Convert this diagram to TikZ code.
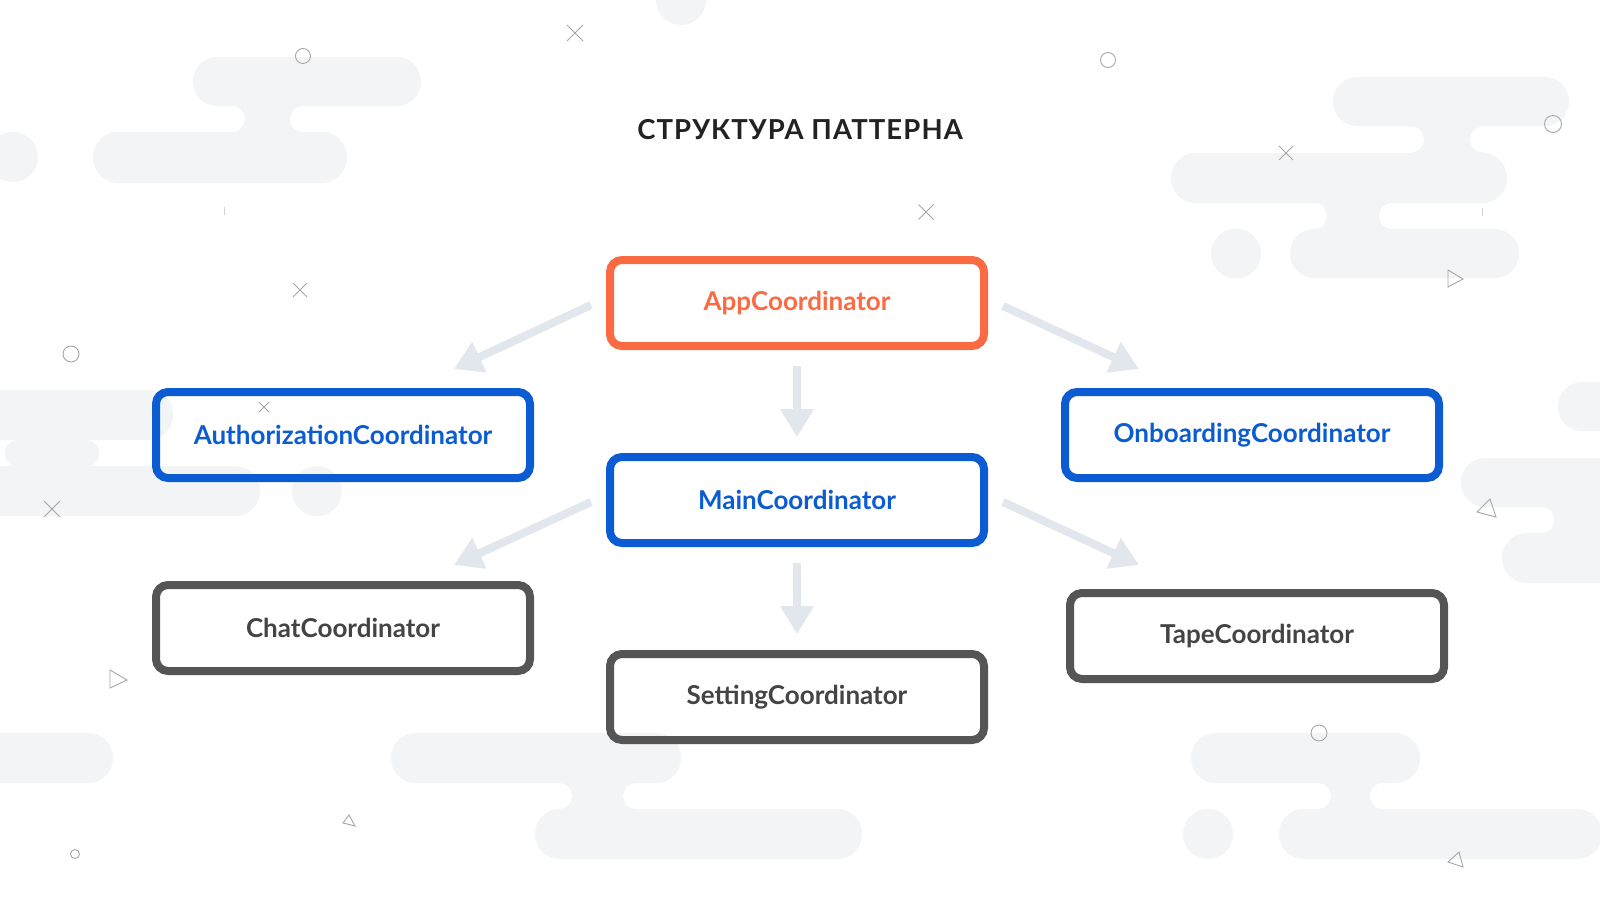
\documentclass[tikz,border=0pt]{standalone}
\usepackage{fontspec}
\setmainfont{Lato}
\usetikzlibrary{arrows.meta,calc}
\definecolor{bgpill}{HTML}{F3F4F6}
\definecolor{orangeC}{HTML}{FA6A43}
\definecolor{blueC}{HTML}{0B5BD3}
\definecolor{grayC}{HTML}{555555}
\definecolor{grayT}{HTML}{444444}
\definecolor{arrowC}{HTML}{E2E7EE}
\definecolor{decoC}{HTML}{A6A6A6}
\definecolor{tickC}{HTML}{C9D2DE}
\definecolor{titleC}{HTML}{222222}
\newcommand\mypill[4]{\fill[bgpill,rounded corners={(#4-#2)/2-0.3}] (#1,#2) rectangle (#3,#4);}
\newcommand\myneck[4]{\fill[bgpill] (#2-13,#3) rectangle (#4+13,#1);
  \fill[white] (#2-13,{(#1+#3)/2}) circle (13);
  \fill[white] (#4+13,{(#1+#3)/2}) circle (13);}
\newcommand\myblob[3]{\fill[bgpill] (#1,#2) circle (#3);}
\newcommand\myx[3]{\draw[deco] (#1,#2) ++(-#3,-#3) -- ++(2*#3,2*#3) ++(0,-2*#3) -- ++(-2*#3,2*#3);}
\newcommand\myo[3]{\draw[deco] (#1,#2) circle (#3);}
\begin{document}
\begin{tikzpicture}[x=1pt,y=-1pt,
  deco/.style={draw=decoC,line width=0.9pt},
  box/.style={rectangle,line width=8pt,rounded corners=12pt,minimum width=374pt,minimum height=86pt,
    font=\fontsize{26}{30}\selectfont\bfseries,inner sep=0pt},
  obox/.style={box,draw=orangeC,text=orangeC},
  bbox/.style={box,draw=blueC,text=blueC},
  gbox/.style={box,draw=grayC,text=grayT},
  arr/.style={draw=arrowC,line width=8pt,-{Triangle[length=28pt,width=32pt]}}]
\useasboundingbox (0,0) rectangle (1600,900);
\fill[white] (0,0) rectangle (1600,900);
% background clouds
\mypill{193}{57}{421}{106}
\mypill{93}{132}{347}{183}
\myneck{106}{245}{132}{290}
\myblob{13}{157}{25}
\myblob{681}{0}{25}
\mypill{1333}{77}{1569}{126}
\mypill{1171}{153}{1507}{203}
\myneck{126}{1424}{153}{1470}
\mypill{1290}{229}{1519}{278}
\myneck{203}{1327}{229}{1379}
\myblob{1236}{253.5}{25}
\mypill{1558}{382}{1660}{431}
\mypill{1461}{458}{1660}{507}
\mypill{1502}{533}{1660}{583}
\fill[bgpill] (1541,507) rectangle (1600,533);
\fill[white] (1541,520) circle (13);
\mypill{-60}{390}{173}{440}
\mypill{5}{440}{99}{467}
\mypill{-60}{466}{260}{516}
\myblob{317}{491}{25}
\mypill{-60}{733}{113}{783}
\mypill{391}{733}{681}{783}
\myneck{783}{572}{809}{623}
\mypill{535}{809}{862}{859}
\mypill{1191}{733}{1420}{783}
\myneck{783}{1331}{809}{1370}
\mypill{1279}{809}{1602}{859}
\myblob{1208}{834}{25}
% small decorations
\myx{575}{33}{8}
\myx{926}{212}{7.5}
\myx{1286}{153}{7}
\myx{300}{290}{7}
\myx{264}{407}{5}
\myx{52}{509}{8}
\myo{303}{56}{7.5}
\myo{1108}{60}{7.5}
\myo{1553}{124}{8.5}
\myo{71}{354}{8}
\myo{1319}{733}{8}
\myo{75}{854}{4.5}
\draw[deco] (1448,270) -- (1448,287) -- (1463,279) -- cycle;
\draw[deco] (1490,499) -- (1477,512) -- (1496,517) -- cycle;
\draw[deco] (110,670) -- (110,688) -- (127,680) -- cycle;
\draw[deco] (349,815) -- (343,823) -- (355,826) -- cycle;
\draw[deco] (1459,852) -- (1448,862) -- (1463,867) -- cycle;
\draw[tickC,line width=1pt] (224,207) -- (224,215);
\draw[tickC,line width=1pt] (1482,208) -- (1482,216);
% title
\node[font=\fontsize{27.5}{30}\selectfont\bfseries\addfontfeatures{LetterSpace=4},text=titleC] (title) at (800,130) {СТРУКТУРА ПАТТЕРНА};
% boxes
\node[obox] (App) at (797,303) {AppCoordinator};
\node[bbox] (Auth) at (343,435) {AuthorizationCoordinator};
\node[bbox] (Onb) at (1252,435) {OnboardingCoordinator};
\node[bbox] (Main) at (797,500) {MainCoordinator};
\node[gbox] (Chat) at (343,628) {ChatCoordinator};
\node[gbox] (Set) at (797,697) {SettingCoordinator};
\node[gbox] (Tape) at (1257,636) {TapeCoordinator};
% arrows
\draw[arr] ($(App.west)+(-15,2)$) -- ($(Auth.north east)+(-80,-19)$);
\draw[arr] ($(App.east)+(15,3)$) -- ($(Onb.north west)+(78,-19)$);
\draw[arr] ($(App.south)+(0,16)$) -- ($(Main.north)+(0,-16)$);
\draw[arr] ($(Main.west)+(-15,2)$) -- ($(Chat.north east)+(-80,-16)$);
\draw[arr] ($(Main.east)+(15,2)$) -- ($(Tape.north west)+(73,-24)$);
\draw[arr] ($(Main.south)+(0,16)$) -- ($(Set.north)+(0,-16)$);
\end{tikzpicture}
\end{document}
